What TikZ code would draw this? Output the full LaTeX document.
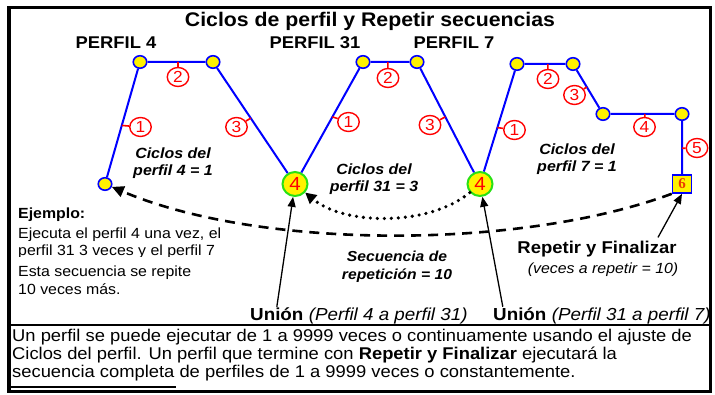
\documentclass[tikz,border=0pt]{standalone}
\usepackage{fontspec}
\setmainfont{Liberation Sans}[FakeStretch=1.08]
\newfontfamily\sixfont{Liberation Serif}
\usetikzlibrary{calc,shapes.geometric,arrows.meta}
\definecolor{jgreen}{RGB}{40,225,20}
\definecolor{sixred}{RGB}{235,60,0}
\begin{document}
\begin{tikzpicture}[x=1pt,y=-1pt,
  seg/.style={draw=blue, line width=2pt},
  dot/.style={ellipse, draw=blue, fill=yellow, line width=1.6pt, minimum width=13.5pt, minimum height=12.5pt, inner sep=0pt},
  jn/.style={ellipse, draw=jgreen, fill=yellow, line width=2pt, minimum width=25pt, minimum height=24pt, inner sep=0pt, text=red, font=\fontsize{19}{19}\selectfont},
  endsq/.style={rectangle, draw=blue, fill=yellow, line width=1.6pt, minimum width=19pt, minimum height=18pt, inner sep=0pt, text=sixred, font=\sixfont\bfseries\fontsize{15}{15}\selectfont},
  num/.style={ellipse, draw=red, line width=1.4pt, minimum width=21.5pt, minimum height=19pt, inner sep=0pt, text=red, font=\fontsize{16}{16}\selectfont},
  tick/.style={draw=red, line width=1.6pt},
  ttl/.style={anchor=base, inner sep=0pt, font=\bfseries\fontsize{19.7}{22}\selectfont},
  ptitle/.style={anchor=base, inner sep=0pt, font=\bfseries\fontsize{17}{20}\selectfont},
  cyc/.style={align=center, inner sep=0pt, font=\bfseries\itshape\fontsize{14.8}{17}\selectfont},
  body/.style={anchor=base west, inner sep=0pt, font=\fontsize{14.7}{17}\selectfont},
  un/.style={anchor=base west, inner sep=0pt, font=\bfseries\fontsize{17.4}{20}\selectfont},
  unit/.style={anchor=base west, inner sep=0pt, font=\itshape\fontsize{17.4}{20}\selectfont},
  bt/.style={anchor=base west, inner sep=0pt, font=\fontsize{17}{18}\selectfont},
  dotarrow/.style={line width=3.6pt, dash pattern=on 0pt off 7pt, line cap=round, -{Triangle[length=11pt,width=11pt]}},
  dasharrow/.style={line width=2.6pt, dash pattern=on 10pt off 7pt, -{Triangle[length=12pt,width=11pt]}},
  thinarrow/.style={line width=1.3pt, -{Triangle[length=10pt,width=8pt]}}
]
\useasboundingbox (0,0) rectangle (715,395);
\fill[white] (0,0) rectangle (715,395);

% frame
\draw[line width=3.5pt] (9,7.5) rectangle (710.5,391.5);
\draw[line width=1.2pt] (9,325) -- (710.5,325);
\draw[line width=1.2pt] (9,387) -- (176,387);

% titles
\node[ttl] (title) at (370,27) {Ciclos de perfil y Repetir secuencias};
\node[ptitle] (t4) at (116,48.5) {PERFIL 4};
\node[ptitle] (t31) at (315,48.5) {PERFIL 31};
\node[ptitle] (t7) at (454,48.5) {PERFIL 7};

% profile points
\node[dot] (a0) at (105,184) {};
\node[dot] (p1) at (140,62) {};
\node[dot] (p2) at (213,62) {};
\node[jn] (j1) at (295,184) {4};
\node[dot] (p3) at (363,62) {};
\node[dot] (p4) at (417,62) {};
\node[jn] (j2) at (480,184) {4};
\node[dot] (q1) at (517,64) {};
\node[dot] (q2) at (573,64) {};
\node[dot] (q3) at (603,114) {};
\node[dot] (q4) at (682,114) {};
\node[endsq] (sq) at (682,184) {6};

\draw[seg] (a0) -- (p1) -- (p2) -- (j1) -- (p3) -- (p4) -- (j2) -- (q1) -- (q2) -- (q3) -- (q4) -- (sq);

% step numbers
\node[num] (n4a) at (140.5,127) {1};
\node[num] (n4b) at (178,77) {2};
\node[num] (n4c) at (236.5,127) {3};
\node[num] (n31a) at (348.5,122) {1};
\node[num] (n31b) at (388,78) {2};
\node[num] (n31c) at (430,125) {3};
\node[num] (n7a) at (514.5,130) {1};
\node[num] (n7b) at (548,79) {2};
\node[num] (n7c) at (574.5,95) {3};
\node[num] (n7d) at (644.5,127) {4};
\node[num] (n7e) at (697,148) {5};

\draw[tick] ($(a0)!0.48!(p1)$) -- (n4a);
\draw[tick] ($(p1)!0.52!(p2)$) -- (n4b);
\draw[tick] ($(p2)!0.46!(j1)$) -- (n4c);
\draw[tick] ($(j1)!0.55!(p3)$) -- (n31a);
\draw[tick] ($(p3)!0.46!(p4)$) -- (n31b);
\draw[tick] ($(p4)!0.45!(j2)$) -- (n31c);
\draw[tick] ($(j2)!0.47!(q1)$) -- (n7a);
\draw[tick] ($(q1)!0.55!(q2)$) -- (n7b);
\draw[tick] ($(q2)!0.46!(q3)$) -- (n7c);
\draw[tick] ($(q3)!0.53!(q4)$) -- (n7d);
\draw[tick] ($(q4)!0.49!(sq)$) -- (n7e);

% cycle labels
\node[cyc] (c4) at (173,162.7) {Ciclos del\\perfil 4 = 1};
\node[cyc] (c31) at (374,179.6) {Ciclos del\\perfil 31 = 3};
\node[cyc] (c7) at (577,159.1) {Ciclos del\\perfil 7 = 1};
\node[cyc, font=\bfseries\itshape\fontsize{14.5}{18}\selectfont] (sec) at (397,267.2) {Secuencia de\\repetición = 10};

% example
\node[body, font=\bfseries\fontsize{14.7}{17}\selectfont] (ej0) at (18,218.3) {Ejemplo:};
\node[body] (ej1) at (18,238.3) {Ejecuta el perfil 4 una vez, el};
\node[body] (ej2) at (18,255.3) {perfil 31 3 veces y el perfil 7};
\node[body, fill=white, text height=20pt, text depth=4pt] (ej3) at (18,276.7) {Esta secuencia se repite};
\node[body] (ej4) at (18,295) {10 veces más.};

% union labels
\node[un] (u1) at (250,320.7) {Unión};
\node[unit, xshift=5pt] (u1t) at (u1.base east) {(Perfil 4 a perfil 31)};
\node[un] (u2) at (493,320.7) {Unión};
\node[unit, xshift=5pt] (u2t) at (u2.base east) {(Perfil 31 a perfil 7)};

% repeat label
\node[anchor=base, inner sep=0pt, font=\bfseries\fontsize{17.1}{20}\selectfont] (rf) at (597,254) {Repetir y Finalizar};
\node[anchor=base, inner sep=0pt, font=\itshape\fontsize{14.7}{17}\selectfont] (rfv) at (603,274) {(veces a repetir = 10)};

% bottom text
\node[bt] (b1) at (12,341.7) {Un perfil se puede ejecutar de 1 a 9999 veces o continuamente usando el ajuste de};
\node[bt] (b2) at (12,359.8) {Ciclos del perfil. Un perfil que termine con \textbf{Repetir y Finalizar} ejecutará la};
\node[bt] (b3) at (12,377.9) {secuencia completa de perfiles de 1 a 9999 veces o constantemente.};

% arrows
\draw[dotarrow] (j2) .. controls (430,226) and (345,226) .. (j1);
\draw[dasharrow] (sq.south west) .. controls (520,250) and (260,250) .. (a0);
\draw[thinarrow] ([yshift=1pt]u1.north) -- (j1);
\draw[thinarrow] ([xshift=-17pt,yshift=1pt]u2.north) -- (j2);
\draw[thinarrow] ([xshift=61pt,yshift=4pt]rf.north) -- (sq.south);
\end{tikzpicture}
\end{document}
